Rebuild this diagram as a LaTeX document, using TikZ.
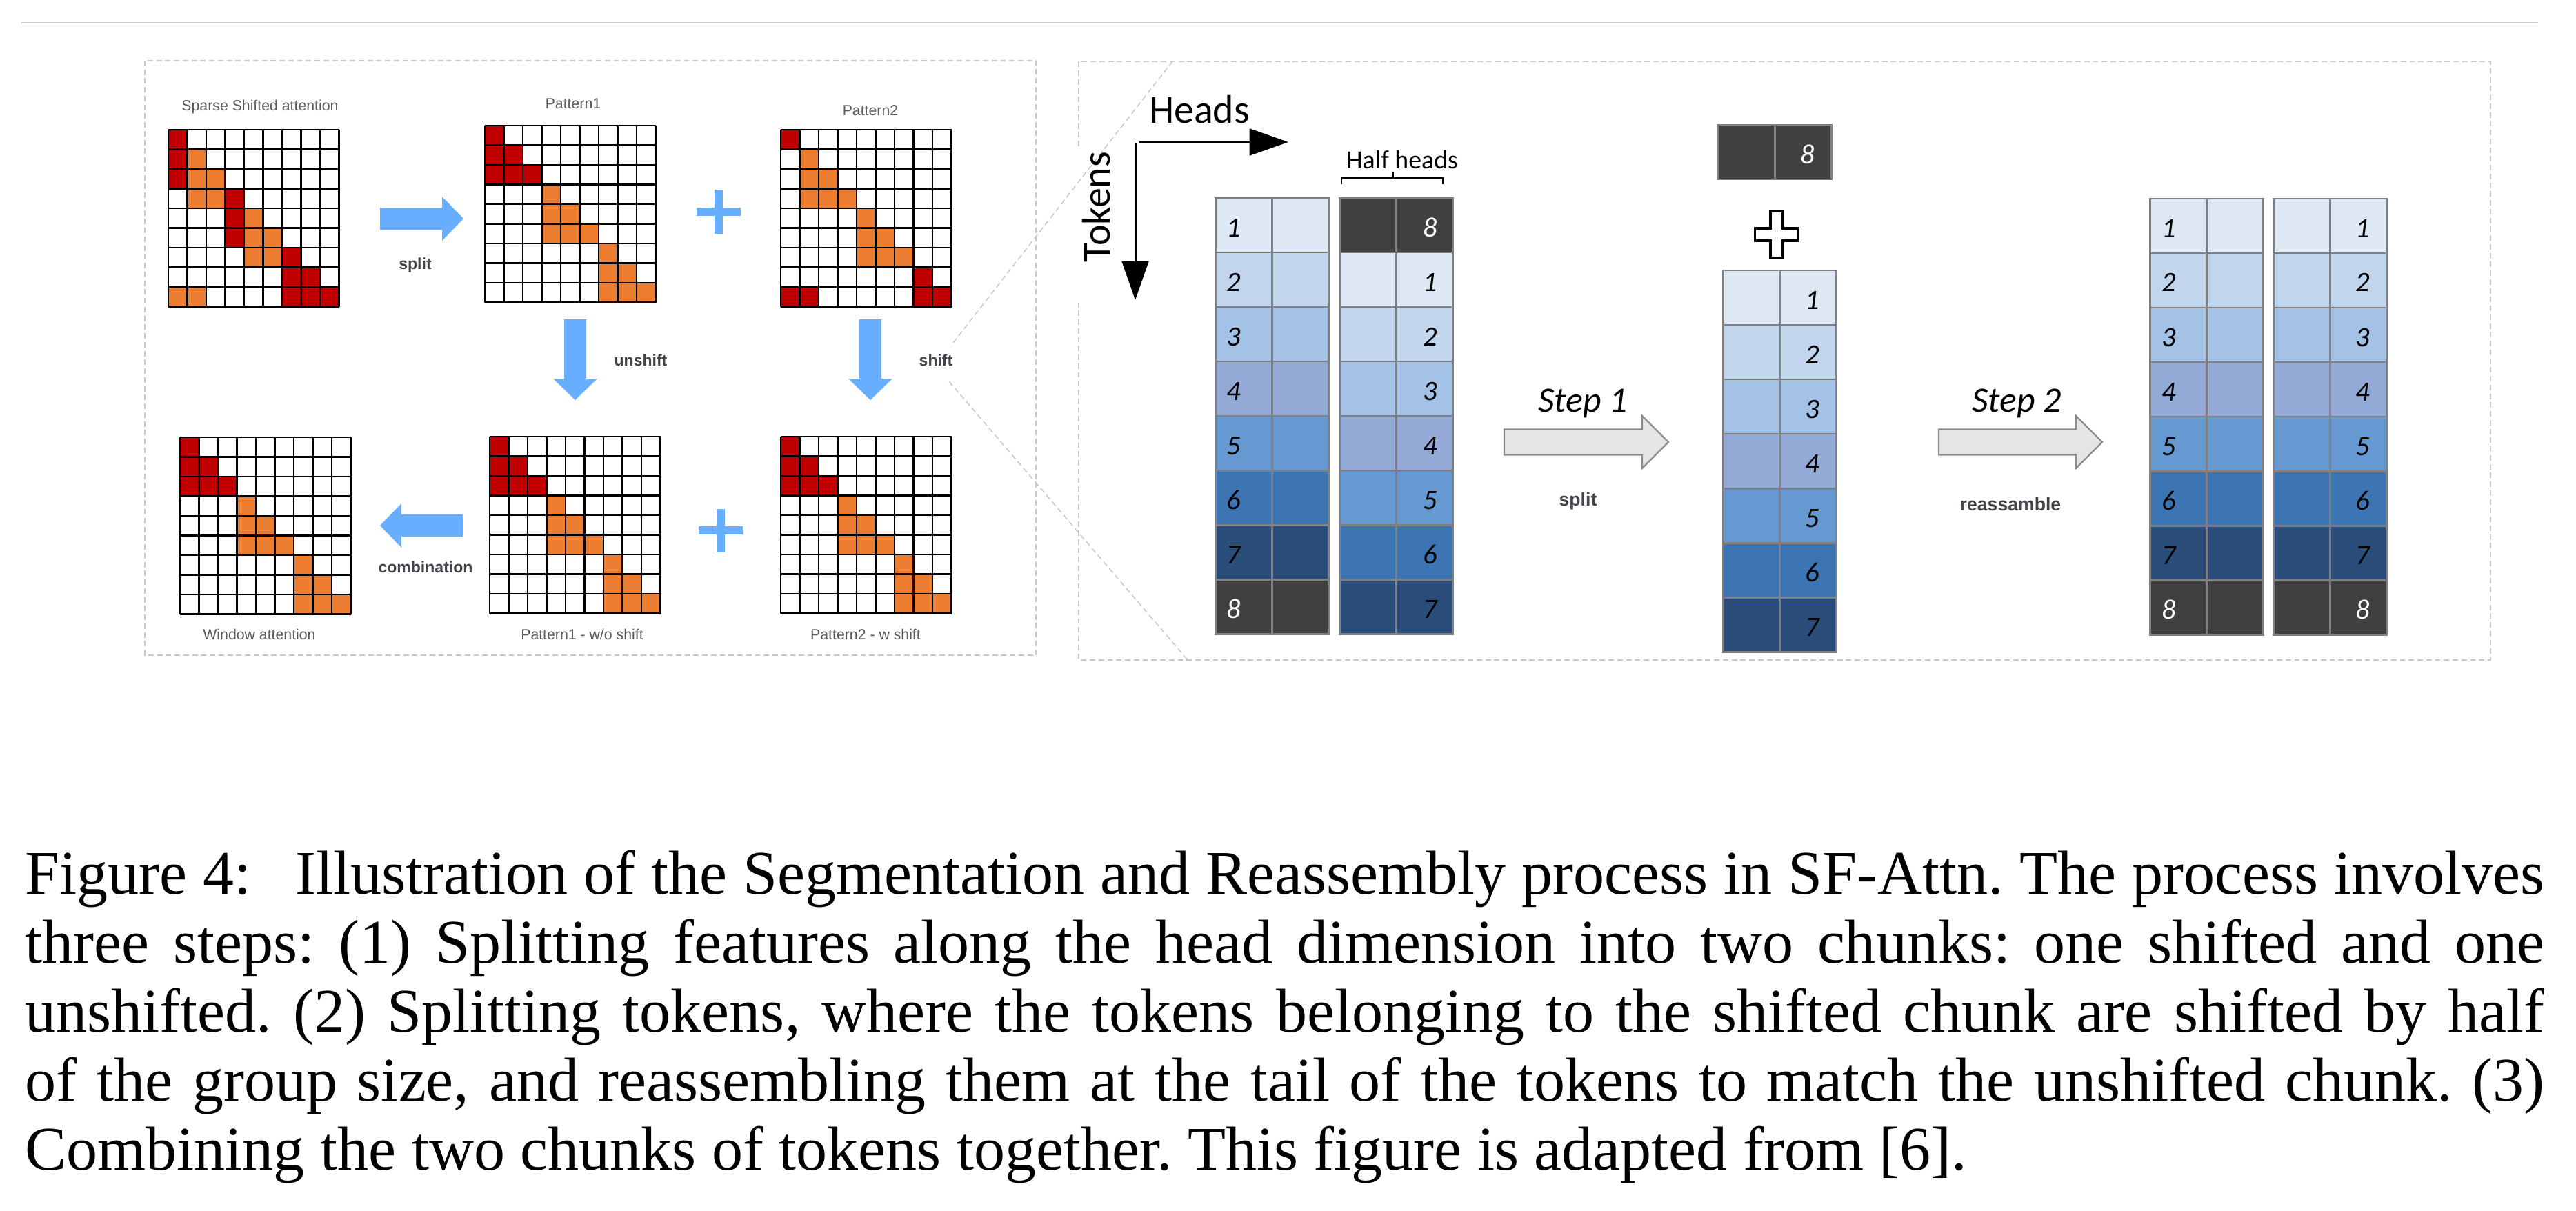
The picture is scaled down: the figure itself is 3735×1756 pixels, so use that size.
\documentclass[tikz,border=0pt]{standalone}
\usepackage{fontspec}
\setmainfont{Liberation Serif}
\newfontfamily\calfont{Carlito}
\newfontfamily\arialfont{Liberation Sans}
\usetikzlibrary{arrows.meta}
\frenchspacing

\definecolor{cellred}{HTML}{C00000}
\definecolor{cellorange}{HTML}{ED7D31}
\definecolor{arrowblue}{RGB}{104,174,255}
\definecolor{tok1}{HTML}{DFE9F5}
\definecolor{tok2}{HTML}{C1D6ED}
\definecolor{tok3}{HTML}{A3C2E6}
\definecolor{tok4}{HTML}{93AAD7}
\definecolor{tok5}{HTML}{6699D1}
\definecolor{tok6}{HTML}{3D74B4}
\definecolor{tok7}{HTML}{2A4E79}
\definecolor{tok8}{HTML}{404040}
\definecolor{boxgray}{HTML}{C8C8C8}
\definecolor{labgray}{HTML}{5A5A5A}
\definecolor{boldgray}{HTML}{42464C}

% 9x9 attention pattern: x, y, red cells, orange cells
\newcommand{\attn}[4]{%
  \foreach \row/\colm in {#3}
    \fill[cellred] ({#1+(\colm-1)*27.5},{#2+(\row-1)*28.5}) rectangle ++(27.5,28.5);
  \foreach \row/\colm in {#4}
    \fill[cellorange] ({#1+(\colm-1)*27.5},{#2+(\row-1)*28.5}) rectangle ++(27.5,28.5);
  \foreach \i in {0,...,9} {
    \draw[gridline] ({#1+\i*27.5},#2) -- ++(0,256.5);
    \draw[gridline] (#1,{#2+\i*28.5}) -- ++(247.5,0);
  }}

% column of token rows: name, x, y, label side, label offset, colour/label/text colour
\newcommand{\tokblock}[6]{%
  \foreach \col/\lab/\tc [count=\i from 0] in {#6} {
    \filldraw[tokcell, fill=\col] (#2,{#3+\i*79}) rectangle ++(82,79);
    \filldraw[tokcell, fill=\col] ({#2+82},{#3+\i*79}) rectangle ++(82,79);
    \node[num, text=\tc, anchor=base #4] (#1-\i) at ({#2+#5},{#3+\i*79+56}) {\lab};
  }}

\begin{document}
\begin{tikzpicture}[x=0.004cm,y=-0.004cm]
  \tikzset{gridline/.style = {draw=black, line width=0.25pt}}
  \tikzset{tokcell/.style = {draw=black!50, line width=0.34pt}}
  \tikzset{num/.style = {inner sep=0pt, font=\calfont\itshape\fontsize{4.6pt}{5pt}\selectfont}}
  \tikzset{dashbox/.style = {draw=boxgray, line width=0.17pt, dash pattern=on 0.9pt off 0.55pt}}
  \tikzset{mattitle/.style = {inner sep=0pt, text=labgray, font=\arialfont\fontsize{2.42pt}{3pt}\selectfont}}
  \tikzset{oplabel/.style = {inner sep=0pt, text=boldgray, font=\arialfont\bfseries\fontsize{2.62pt}{3pt}\selectfont}}
  \tikzset{steplabel/.style = {inner sep=0pt, text=boldgray, font=\arialfont\bfseries\fontsize{3.03pt}{3.5pt}\selectfont}}
  \tikzset{axislabel/.style = {inner sep=0pt, font=\calfont\fontsize{6.6pt}{7pt}\selectfont}}
  \tikzset{axisarrow/.style = {line width=0.34pt, -{Triangle[length=6.4pt, width=4.4pt]}}}
  \tikzset{pics/bluearrow/.style = {code={
    \fill[arrowblue] (0,-16) -- ({#1-31},-16) -- ({#1-31},-32) -- (#1,0)
      -- ({#1-31},32) -- ({#1-31},16) -- (0,16) -- cycle;}}}
  \tikzset{pics/steparrow/.style = {code={
    \filldraw[fill=black!10, draw=black!45, line width=0.25pt] (0,-18.5) -- ({#1-38},-18.5)
      -- ({#1-38},-38) -- (#1,0) -- ({#1-38},38) -- ({#1-38},18.5) -- (0,18.5) -- cycle;}}}

  \useasboundingbox (0,0) rectangle (3735,1756);
  \draw[black!20, line width=0.34pt] (31,33) -- (3680,33);

  % left panel
  \draw[dashbox] (210,88) rectangle (1502,950);

  \node[mattitle] (sparse) at (377,155) {Sparse Shifted attention};
  \node[mattitle] (pat1) at (831,150) {Pattern1};
  \node[mattitle] (pat2) at (1262,160) {Pattern2};
  \node[mattitle] (window) at (376,920) {Window attention};
  \node[mattitle] (pat1u) at (844,920) {Pattern1 - w/o shift};
  \node[mattitle] (pat2s) at (1255,920) {Pattern2 - w shift};

  \attn{244}{188}{1/1,2/1,3/1,4/4,5/4,6/4,7/7,8/7,8/8,9/7,9/8,9/9}
    {2/2,3/2,3/3,4/2,4/3,5/5,6/5,6/6,7/5,7/6,9/1,9/2}
  \attn{703}{182}{1/1,2/1,2/2,3/1,3/2,3/3}
    {4/4,5/4,5/5,6/4,6/5,6/6,7/7,8/7,8/8,9/7,9/8,9/9}
  \attn{1132}{188}{1/1,8/8,9/1,9/2,9/8,9/9}
    {2/2,3/2,3/3,4/2,4/3,4/4,5/5,6/5,6/6,7/5,7/6,7/7}
  \attn{261}{634}{1/1,2/1,2/2,3/1,3/2,3/3}
    {4/4,5/4,5/5,6/4,6/5,6/6,7/7,8/7,8/8,9/7,9/8,9/9}
  \attn{710}{633}{1/1,2/1,2/2,3/1,3/2,3/3}
    {4/4,5/4,5/5,6/4,6/5,6/6,7/7,8/7,8/8,9/7,9/8,9/9}
  \attn{1132}{633}{1/1,2/1,2/2,3/1,3/2,3/3}
    {4/4,5/4,5/5,6/4,6/5,6/6,7/7,8/7,8/8,9/7,9/8,9/9}

  \pic at (551,317) {bluearrow=121};
  \pic[rotate=-90] at (834,463) {bluearrow=117};
  \pic[rotate=-90] at (1262,463) {bluearrow=117};
  \pic[rotate=180] at (671,762) {bluearrow=120};
  \draw[arrowblue, line width=1.45pt] (1010,307) -- (1074,307) (1042,275) -- (1042,339);
  \draw[arrowblue, line width=1.45pt] (1013,769) -- (1077,769) (1045,738) -- (1045,801);

  \node[oplabel] (split) at (602,385) {split};
  \node[oplabel] (unshift) at (929,522) {unshift};
  \node[oplabel] (shift) at (1357,522) {shift};
  \node[oplabel] (comb) at (617,822) {combination};

  % zoom lines and right panel
  \draw[dashbox] (1382,497) -- (1700,89);
  \draw[dashbox] (1376,553) -- (1722,957);
  \draw[dashbox] (1564,212) -- (1564,89) -- (3611,89) -- (3611,957) -- (1564,957) -- (1564,440);

  \node[axislabel, anchor=base] (heads) at (1739,179) {Heads};
  \node[axislabel, anchor=base, rotate=90] (tokens) at (1609,300) {Tokens};
  \draw[axisarrow] (1652,206) -- (1868,206);
  \draw[axisarrow] (1646,207) -- (1646,435);

  \node[axislabel, anchor=base, font=\calfont\fontsize{4.3pt}{5pt}\selectfont] (half) at (2033,244) {Half heads};
  \draw[black, line width=0.3pt] (1945,267) -- (1945,258) -- (2092,258) -- (2092,267) (2020,258) -- (2020,249);

  \tokblock{A}{1762}{287}{west}{15}{tok1/1/black,tok2/2/black,tok3/3/black,tok4/4/black,
    tok5/5/black,tok6/6/black,tok7/7/black,tok8/8/white}
  \tokblock{B}{1942}{287}{east}{144}{tok8/8/white,tok1/1/black,tok2/2/black,tok3/3/black,
    tok4/4/black,tok5/5/black,tok6/6/black,tok7/7/black}

  \pic at (2181,641) {steparrow=238};
  \node[axislabel, anchor=base, font=\calfont\itshape\fontsize{5.9pt}{6pt}\selectfont] (step1) at (2295,597) {Step 1};
  \node[steplabel] (split2) at (2288,727) {split};

  \tokblock{T}{2491}{181}{east}{142}{tok8/8/white}
  \filldraw[fill=white, draw=black, line width=0.4pt] (2567,306) -- (2585,306) -- (2585,331)
    -- (2607.5,331) -- (2607.5,349) -- (2585,349) -- (2585,374) -- (2567,374) -- (2567,349)
    -- (2544.5,349) -- (2544.5,331) -- (2567,331) -- cycle;
  \tokblock{M}{2498}{392}{east}{142}{tok1/1/black,tok2/2/black,tok3/3/black,tok4/4/black,
    tok5/5/black,tok6/6/black,tok7/7/black}

  \pic at (2811,641) {steparrow=237};
  \node[axislabel, anchor=base, font=\calfont\itshape\fontsize{5.9pt}{6pt}\selectfont] (step2) at (2924,597) {Step 2};
  \node[steplabel] (reass) at (2915,731) {reassamble};

  \tokblock{C}{3117}{288}{west}{16}{tok1/1/black,tok2/2/black,tok3/3/black,tok4/4/black,
    tok5/5/black,tok6/6/black,tok7/7/black,tok8/8/white}
  \tokblock{D}{3296}{288}{east}{142}{tok1/1/black,tok2/2/black,tok3/3/black,tok4/4/black,
    tok5/5/black,tok6/6/black,tok7/7/black,tok8/8/white}

  % caption
  \node[anchor=north west, inner sep=0pt, text width=14.6cm, align=justify,
    font=\fontsize{10.24pt}{11.38pt}\selectfont] (caption) at (35,1231)
    {Figure 4:\hspace{0.45em} Illustration of the Segmentation and Reassembly process in SF-Attn. The process involves\linebreak
     three steps: (1) Splitting features along the head dimension into two chunks: one shifted and one\linebreak
     unshifted. (2) Splitting tokens, where the tokens belonging to the shifted chunk are shifted by half\linebreak
     of the group size, and reassembling them at the tail of the tokens to match the unshifted chunk. (3)\linebreak
     Combining the two chunks of tokens together. This figure is adapted from [6].};
\end{tikzpicture}
\end{document}
